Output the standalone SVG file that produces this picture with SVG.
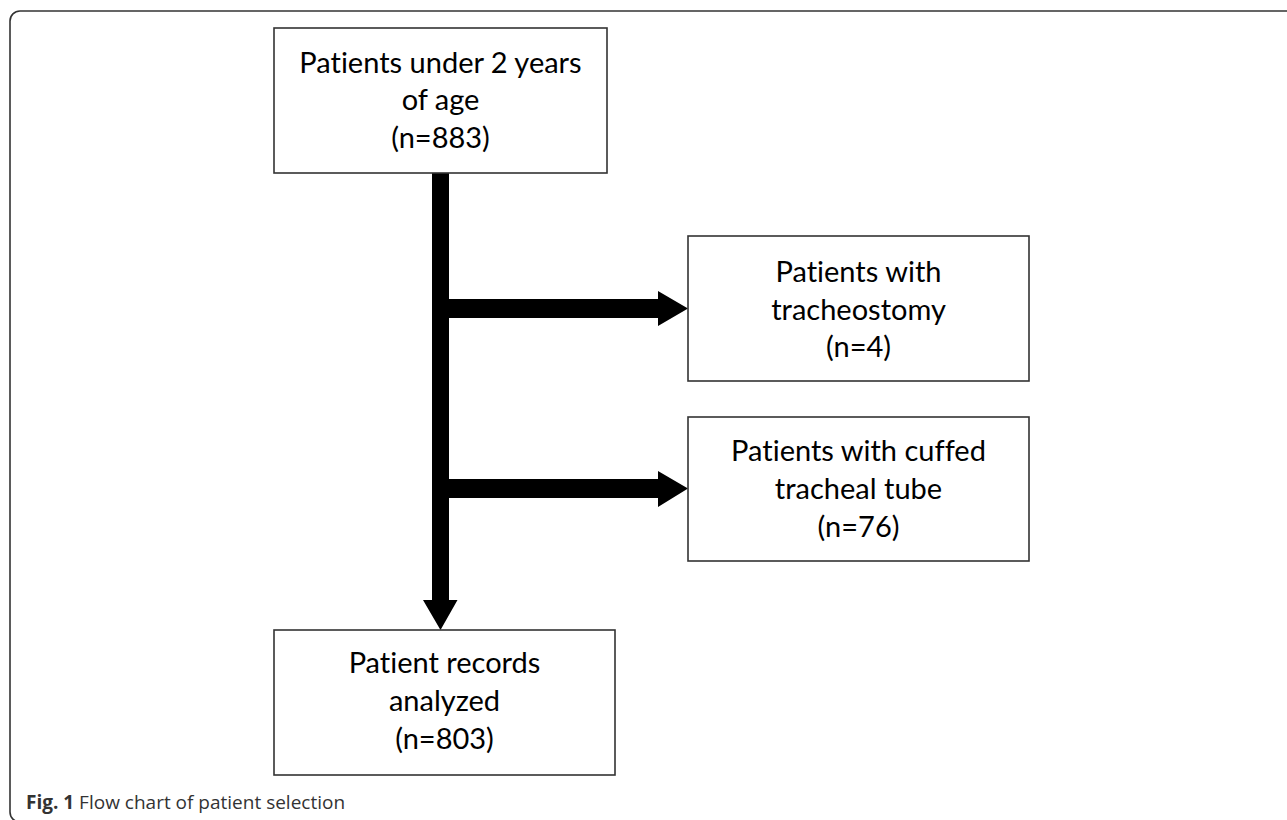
<svg xmlns="http://www.w3.org/2000/svg" width="1287" height="820" viewBox="0 0 1287 820">
<style>
.box{fill:#fff;stroke:#333;stroke-width:1.6}
.t{font-family:Lato,"Liberation Sans",sans-serif;font-size:29px;fill:#000;text-anchor:middle;font-variant-ligatures:none}
.cap{font-family:"Open Sans","Liberation Sans",sans-serif;font-size:19px;fill:#333}
.arr{fill:#000}
</style>
<rect width="1287" height="820" fill="#fff"/>
<rect x="10" y="11" width="1290" height="811" rx="10" ry="10" fill="none" stroke="#333" stroke-width="1.6"/>
<g id="connectors">
<path class="arr" d="M432 173 H449 V600 H457.5 L440.5 630 L423 600 H432 Z"/>
<path class="arr" d="M449 299 H658 V291 L688 308.5 L658 326 V318 H449 Z"/>
<path class="arr" d="M449 479 H658 V471 L688 488.5 L658 507 V498 H449 Z"/>
</g>
<g id="node-start">
<rect class="box" x="274" y="28" width="333" height="145"/>
<text class="t" x="440.5" y="73">Patients under 2 years</text>
<text class="t" x="440.5" y="110">of age</text>
<text class="t" x="440.5" y="148">(n=883)</text>
</g>
<g id="node-tracheostomy">
<rect class="box" x="688" y="236" width="341" height="145"/>
<text class="t" x="858.5" y="282">Patients with</text>
<text class="t" x="858.5" y="320">tracheostomy</text>
<text class="t" x="858.5" y="357">(n=4)</text>
</g>
<g id="node-cuffed">
<rect class="box" x="688" y="417" width="341" height="144"/>
<text class="t" x="858.5" y="461">Patients with cuffed</text>
<text class="t" x="858.5" y="499">tracheal tube</text>
<text class="t" x="858.5" y="537">(n=76)</text>
</g>
<g id="node-analyzed">
<rect class="box" x="274" y="630" width="341" height="145"/>
<text class="t" x="444.5" y="673">Patient records</text>
<text class="t" x="444.5" y="711">analyzed</text>
<text class="t" x="444.5" y="749">(n=803)</text>
</g>
<text class="cap" x="26" y="809"><tspan font-weight="bold">Fig. 1</tspan> Flow chart of patient selection</text>
</svg>
